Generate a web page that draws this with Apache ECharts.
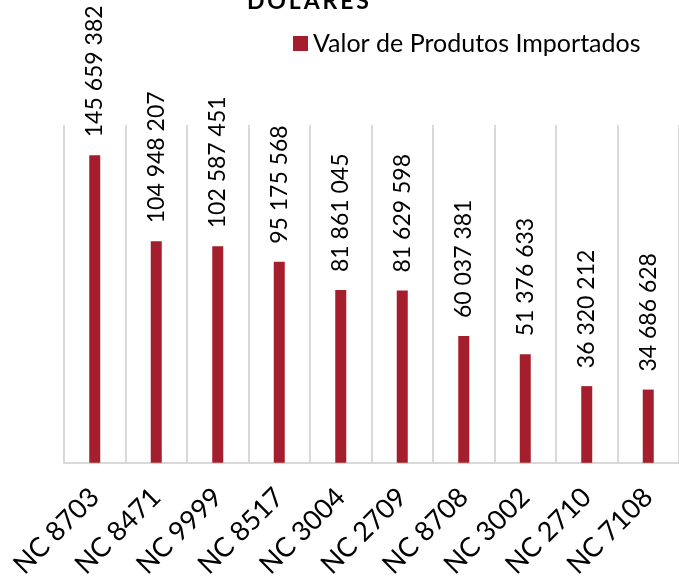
<!DOCTYPE html>
<html>
<head>
<meta charset="utf-8">
<script src="https://cdn.jsdelivr.net/npm/echarts@6/dist/echarts.min.js"></script>
<style>html,body{margin:0;padding:0;background:#fff;}#c{width:679px;height:581px;}</style>
</head>
<body>
<div id="c"></div>
<script>
const categories = ['NC 8703','NC 8471','NC 9999','NC 8517','NC 3004','NC 2709','NC 8708','NC 3002','NC 2710','NC 7108'];
const values = [145659382, 104948207, 102587451, 95175568, 81861045, 81629598, 60037381, 51376633, 36320212, 34686628];
const seriesName = 'Valor de Produtos Importados';
const titleText = 'D\u2009Ó\u2009L\u2009A\u2009R\u2009E\u2009S';

function fmt(v){ return String(v).replace(/\B(?=(\d{3})+(?!\d))/g, ' '); }

const chart = echarts.init(document.getElementById('c'));
chart.setOption({
  animation: false,
  backgroundColor: '#fff',
  title: {
    text: titleText,
    left: 242, top: -15,
    textStyle: { fontFamily: 'Lato', fontWeight: 'bold', fontSize: 23, color: '#000' }
  },
  legend: {
    left: 288, top: 26,
    icon: 'rect', itemWidth: 15, itemHeight: 15, itemGap: 10,
    textStyle: { fontFamily: 'Lato', fontSize: 25, color: '#000' },
    data: [seriesName]
  },
  grid: { left: 64, right: -3, top: 125, bottom: 115, containLabel: false },
  xAxis: {
    type: 'category', data: categories,
    axisLine: { lineStyle: { color: '#D9D9D9', width: 2 } },
    axisTick: { show: false },
    splitLine: { show: true, lineStyle: { color: '#D9D9D9', width: 2 } },
    axisLabel: { rotate: 45, margin: 30, interval: 0, fontFamily: 'Lato', fontSize: 27, color: '#000' }
  },
  yAxis: { type: 'value', min: 0, max: 160000000, show: false, splitLine: { show: false } },
  series: [{
    name: seriesName, type: 'bar', data: values, barWidth: 11,
    itemStyle: { color: '#A41E2D' },
    label: {
      show: true, position: 'top', rotate: 90, align: 'left', verticalAlign: 'middle', distance: 18,
      fontFamily: 'Lato', fontSize: 23, color: '#000',
      formatter: p => fmt(p.value)
    }
  }]
});
</script>
</body>
</html>
